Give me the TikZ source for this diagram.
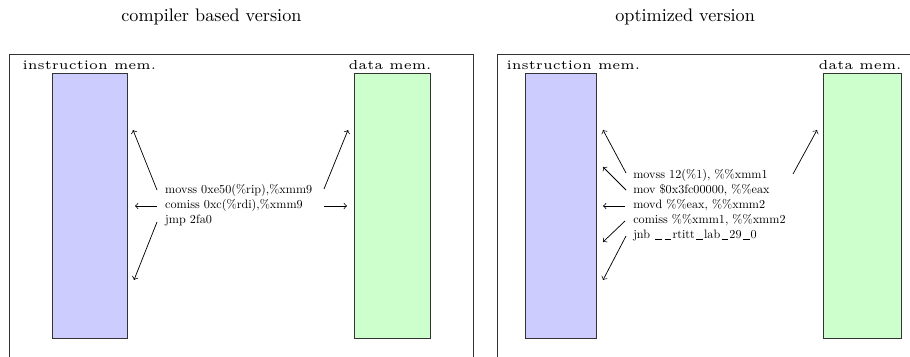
\documentclass[tikz,border=0pt]{standalone}
\usetikzlibrary{positioning}
\newcommand\usc{\leavevmode\kern.1em\lower.08em\hbox{\vrule width.55em height.45pt depth0pt}\kern.1em}
\tikzset{
  frame/.style={draw=black!80, line width=0.5pt},
  imem/.style={draw=black!80, line width=0.5pt, fill=blue!20},
  dmem/.style={draw=black!80, line width=0.5pt, fill=green!20},
  memlabel/.style={font=\fontsize{5}{6}\selectfont, scale=1.44, inner sep=0pt},
  code/.style={font=\fontsize{10}{12.3}\selectfont, scale=0.67, align=left, inner sep=0pt},
  ttl/.style={inner sep=0pt},
  acc/.style={->, line width=0.4pt},
}
\begin{document}
\begin{tikzpicture}[x=0.55pt, y=-0.55pt, >=to]
\useasboundingbox (0,0) rectangle (910,356);
\clip (0,0) rectangle (910,356);

% titles
\node[ttl, anchor=base west] (ttlA) at (121,21) {compiler based version};
\node[ttl, anchor=base west] (ttlB) at (615,21) {optimized version};

% frames
\draw[frame] (9,360) |- (473,54) -- (473,360);
\draw[frame] (497,360) |- (915,54);

% memories
\draw[imem] (52,73) rectangle (127,338);
\draw[dmem] (354,73) rectangle (430,338);
\draw[imem] (525,73) rectangle (596,338);
\draw[dmem] (823,73) rectangle (901,338);

\node[memlabel, anchor=base west] (imemA) at (22,69) {instruction mem.};
\node[memlabel, anchor=base east] (dmemA) at (432,69) {data mem.};
\node[memlabel, anchor=base west] (imemB) at (506,69) {instruction mem.};
\node[memlabel, anchor=base east] (dmemB) at (902,69) {data mem.};

% code
\node[code, anchor=north west] (codeA) at (165,184) {movss 0xe50(\%rip),\%xmm9\\comiss 0xc(\%rdi),\%xmm9\\jmp 2fa0};
\node[code, anchor=north west] (codeB) at (633,169) {movss 12(\%1), \%\%xmm1\\mov \$0x3fc00000, \%\%eax\\movd \%\%eax, \%\%xmm2\\comiss \%\%xmm1, \%\%xmm2\\jnb \usc\usc rtitt\usc lab\usc 29\usc 0};

% accesses, compiler based
\coordinate (sA1) at (157,190); \coordinate (eA1) at (133,130);
\coordinate (sA2) at (157,206); \coordinate (eA2) at (135,206);
\coordinate (sA3) at (157,222); \coordinate (eA3) at (134,280);
\coordinate (sA4) at (324,189); \coordinate (eA4) at (348,130);
\coordinate (sA5) at (324,206); \coordinate (eA5) at (347,206);
\foreach \i in {1,...,5}
  \draw[acc] (sA\i) -- (eA\i);

% accesses, optimized
\coordinate (sB1) at (626,173); \coordinate (eB1) at (603,130);
\coordinate (sB2) at (626,190); \coordinate (eB2) at (603,167);
\coordinate (sB3) at (625,206); \coordinate (eB3) at (603,206);
\coordinate (sB4) at (625,221); \coordinate (eB4) at (603,242);
\coordinate (sB5) at (626,236); \coordinate (eB5) at (603,280);
\coordinate (sB6) at (793,174); \coordinate (eB6) at (817,130);
\foreach \i in {1,...,6}
  \draw[acc] (sB\i) -- (eB\i);
\end{tikzpicture}
\end{document}
